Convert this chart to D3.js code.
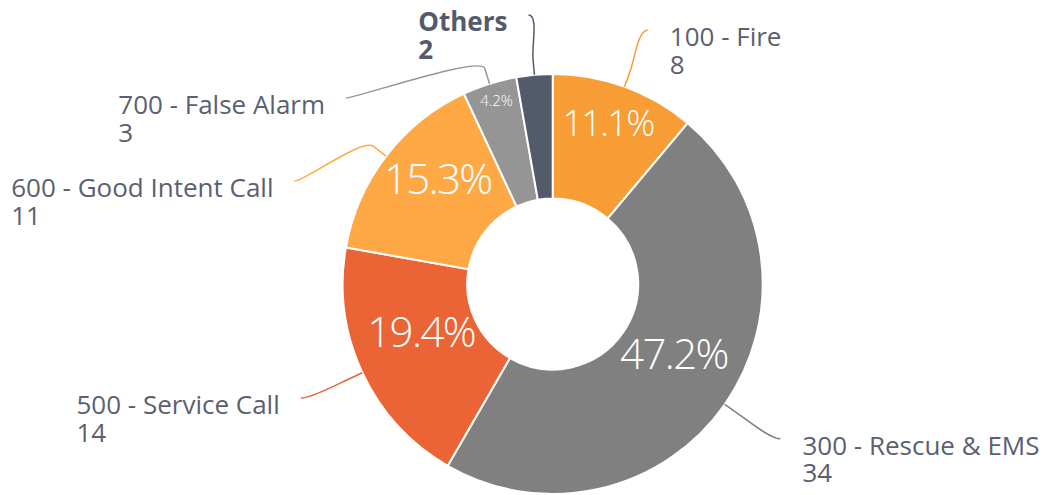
<!DOCTYPE html>
<html>
<head>
<meta charset="utf-8">
<script src="https://cdn.jsdelivr.net/npm/d3@7"></script>
<style>
  body { margin: 0; background: #fff; }
  text { font-family: "Open Sans", sans-serif; }
</style>
</head>
<body>
<script>
var categories = ["100 - Fire", "300 - Rescue & EMS", "500 - Service Call",
                  "600 - Good Intent Call", "700 - False Alarm", "Others"];
var values = [8, 34, 14, 11, 3, 2];
var colors = ["#f89d35", "#808080", "#ea6435", "#fea945", "#959595", "#525a6b"];

var W = 1044, H = 495;
var cx = 552.7, cy = 284;
var rOuter = 210, rInner = 85.5;

// inside percentage labels: font size, radius, small angle nudge (deg)
var pctLayout = {
  "100 - Fire":            {fs: 36, r: 170, da: -1},
  "300 - Rescue & EMS":    {fs: 42, r: 140, da: -5},
  "500 - Service Call":    {fs: 42, r: 140, da: 5},
  "600 - Good Intent Call":{fs: 42, r: 156, da: 5},
  "700 - False Alarm":     {fs: 15, r: 192, da: 0.5}
};

var data = categories.map(function(c, i) { return {name: c, value: values[i], color: colors[i]}; });
var total = d3.sum(values);

var svg = d3.select("body").append("svg")
    .attr("width", W)
    .attr("height", H);

var g = svg.append("g")
    .attr("transform", "translate(" + cx + "," + cy + ")");

var pie = d3.pie()
    .sort(null)
    .value(function(d) { return d.value; });

var arc = d3.arc()
    .innerRadius(rInner)
    .outerRadius(rOuter);

var arcs = pie(data);

g.selectAll("path.slice")
    .data(arcs)
  .enter().append("path")
    .attr("class", "slice")
    .attr("d", arc)
    .attr("fill", function(d) { return d.data.color; })
    .attr("stroke", "#fff")
    .attr("stroke-width", 2);

var fmt = d3.format(".1f");

// percentage labels
g.selectAll("text.pct")
    .data(arcs.filter(function(d) { return pctLayout[d.data.name]; }))
  .enter().append("text")
    .attr("class", "pct")
    .each(function(d) {
      var L = pctLayout[d.data.name];
      var a = (d.startAngle + d.endAngle) / 2 + L.da * Math.PI / 180;
      d3.select(this)
        .attr("x", L.r * Math.sin(a))
        .attr("y", -L.r * Math.cos(a) + 0.357 * L.fs)
        .style("font-size", L.fs + "px")
        .style("letter-spacing", (L.fs > 20 ? -1.6 : 0) + "px");
    })
    .attr("text-anchor", "middle")
    .attr("fill", "#fff")
    .style("font-weight", 300)
    .text(function(d) { return fmt(d.value / total * 100) + "%"; });

// outside labels: place near the slice, then push apart per side
var rLab = 278, rLabY = 270, slot = 83, topY = 13 - cy;
var labs = arcs.map(function(d) {
  var a = (d.startAngle + d.endAngle) / 2;
  return {d: d, a: a, left: a > Math.PI, x0: rLab * Math.sin(a), y0: -rLabY * Math.cos(a)};
});
[true, false].forEach(function(side) {
  var s = labs.filter(function(l) { return l.left === side; })
    .sort(function(p, q) { return p.y0 - q.y0; });
  var prev = -Infinity;
  s.forEach(function(l, i) {
    var y = Math.max(l.y0, i === 0 ? topY : prev + slot);
    l.y = y;
    if (Math.abs(y - l.y0) > 10) {
      l.x = (side ? -1 : 1) * Math.sqrt(Math.max(0, rLab * rLab - y * y));
    } else {
      l.x = l.x0;
    }
    prev = y;
  });
});

var lab = g.selectAll("g.lab")
    .data(labs)
  .enter().append("g")
    .attr("class", "lab");

lab.append("path")
    .attr("fill", "none")
    .attr("stroke", function(l) { return l.d.data.color; })
    .attr("stroke-width", 1.5)
    .attr("d", function(l) {
      var sa = Math.sin(l.a), ca = -Math.cos(l.a);
      var p0 = [rOuter * sa, rOuter * ca];
      var p1 = [(rOuter + 16) * sa, (rOuter + 16) * ca];
      var dir = l.left ? 1 : -1;
      var p = d3.path();
      p.moveTo(p0[0], p0[1]);
      p.lineTo(p1[0], p1[1]);
      p.bezierCurveTo(p1[0] + 14 * sa, p1[1] + 14 * ca,
                      l.x + dir * 10, l.y, l.x, l.y);
      return p.toString();
    });

var t = lab.append("text")
    .style("font-size", "26px")
    .style("font-weight", function(l) { return l.d.data.name === "Others" ? 700 : 400; })
    .style("fill", function(l) { return l.d.data.name === "Others" ? "#525a6b" : "#5a6070"; });

t.append("tspan")
    .attr("x", 0)
    .attr("y", 0)
    .text(function(l) { return l.d.data.name; });
t.append("tspan")
    .attr("x", 0)
    .attr("y", 27.5)
    .text(function(l) { return l.d.data.value; });

t.attr("transform", function(l) {
  var w = this.getBBox().width;
  var tx = l.left ? l.x - 21 - w : l.x + 22;
  return "translate(" + tx + "," + (l.y + 16) + ")";
});
</script>
</body>
</html>
